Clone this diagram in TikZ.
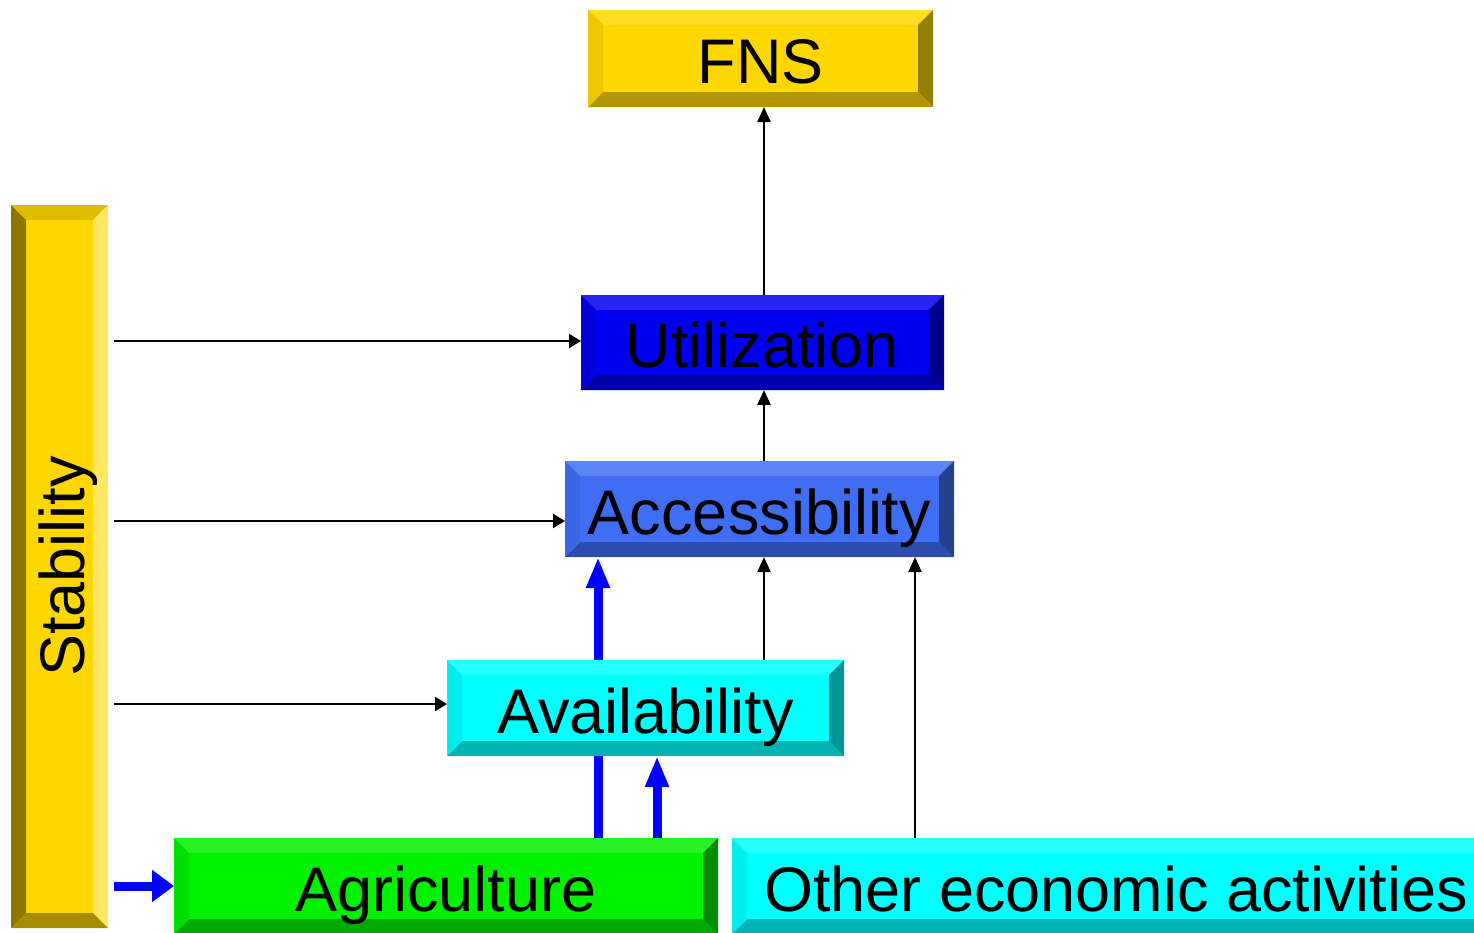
\documentclass[tikz,border=0pt]{standalone}
\usepackage{fontspec}
\setmainfont{Liberation Sans}
\usetikzlibrary{arrows.meta,calc}
\definecolor{goldb}{HTML}{FFD700}
\definecolor{ublue}{HTML}{0000EE}
\definecolor{ablue}{HTML}{3F6EF5}
\definecolor{cyanb}{HTML}{00FFFF}
\definecolor{greenb}{HTML}{00F000}
\definecolor{arrowblue}{HTML}{0000FF}
\pgfdeclarelayer{bg}
\pgfsetlayers{bg,main}
\tikzset{
  boxbase/.style={rectangle, inner sep=0pt, outer sep=0pt,
    font=\fontsize{63}{70}\selectfont, text height=50pt, text depth=0pt, text=black},
  bev/.style n args={5}{boxbase, fill=#1, path picture={
    \fill[#2] (path picture bounding box.north west) -- (path picture bounding box.north east)
      -- ([xshift=-15pt,yshift=-15pt]path picture bounding box.north east)
      -- ([xshift=15pt,yshift=-15pt]path picture bounding box.north west) -- cycle;
    \fill[#3] (path picture bounding box.north east) -- (path picture bounding box.south east)
      -- ([xshift=-15pt,yshift=15pt]path picture bounding box.south east)
      -- ([xshift=-15pt,yshift=-15pt]path picture bounding box.north east) -- cycle;
    \fill[#4] (path picture bounding box.south west) -- (path picture bounding box.south east)
      -- ([xshift=-15pt,yshift=15pt]path picture bounding box.south east)
      -- ([xshift=15pt,yshift=15pt]path picture bounding box.south west) -- cycle;
    \fill[#5] (path picture bounding box.north west) -- (path picture bounding box.south west)
      -- ([xshift=15pt,yshift=15pt]path picture bounding box.south west)
      -- ([xshift=15pt,yshift=-15pt]path picture bounding box.north west) -- cycle;
  }},
  stdbox/.style={bev={#1}{#1!85!white}{#1!58!black}{#1!70!black}{#1!93!black}},
  blk/.style={line width=2.3pt, draw=black, -{Triangle[length=15pt,width=13pt]}},
  blkh/.style={line width=2.3pt, draw=black, -{Triangle[length=12pt,width=14pt]}},
  blu/.style={line width=9pt, draw=arrowblue, -{Triangle[length=31pt,width=22pt]}},
  bluh/.style={line width=9pt, draw=arrowblue, -{Triangle[length=22pt,width=31pt]}},
}
\begin{document}
\begin{tikzpicture}[x=1pt,y=-1pt]
\useasboundingbox (0,0) rectangle (1474,932);
\begin{pgfonlayer}{bg}
\fill[white] (0,0) rectangle (1474,932);
\end{pgfonlayer}

\node[stdbox=goldb, minimum width=345pt, minimum height=97pt] (fns) at (760.5,58.5) {FNS};
\node[stdbox=ublue, minimum width=363pt, minimum height=95pt] (util) at (762.5,342.5) {Utilization};
\node[stdbox=ablue, minimum width=389pt, minimum height=96pt] (access) at (759.5,509) {Accessibility};
\node[stdbox=cyanb, minimum width=397pt, minimum height=96pt] (avail) at (645.5,708) {Availability};
\node[stdbox=greenb, minimum width=544pt, minimum height=96pt] (agri) at (446,886) {Agriculture};
\node[stdbox=cyanb, minimum width=768pt, minimum height=96pt] (other) at (1116,886) {Other economic activities};
\node[bev={goldb}{goldb!88!black}{goldb!60!white}{goldb!65!black}{goldb!55!black},
      minimum width=97pt, minimum height=723pt] (stab) at (59.5,566.5) {};
\node[boxbase, rotate=90] (stabtext) at (stab.center) {Stability};

\coordinate (xa) at (598,0);
\coordinate (xb) at (657,0);
\coordinate (xc) at (915,0);
\coordinate (xd) at (764,0);
\coordinate (yu) at (0,341);
\coordinate (ya) at (0,521);
\coordinate (yv) at (0,704);

\begin{pgfonlayer}{bg}
\draw[blu] (agri.north -| xa) -- (access.south -| xa);
\end{pgfonlayer}
\draw[blu] (agri.north -| xb) -- (avail.south -| xb);
\draw[bluh] ([xshift=6pt]stab.east |- agri.west) -- (agri.west);

\draw[blk] (util.north -| xd) -- (fns.south -| xd);
\draw[blk] (access.north -| xd) -- (util.south -| xd);
\draw[blk] (avail.north -| xd) -- (access.south -| xd);
\draw[blk] (other.north -| xc) -- (access.south -| xc);

\draw[blkh] ([xshift=6pt]stab.east |- yu) -- (util.west |- yu);
\draw[blkh] ([xshift=6pt]stab.east |- ya) -- (access.west |- ya);
\draw[blkh] ([xshift=6pt]stab.east |- yv) -- (avail.west |- yv);
\end{tikzpicture}
\end{document}
